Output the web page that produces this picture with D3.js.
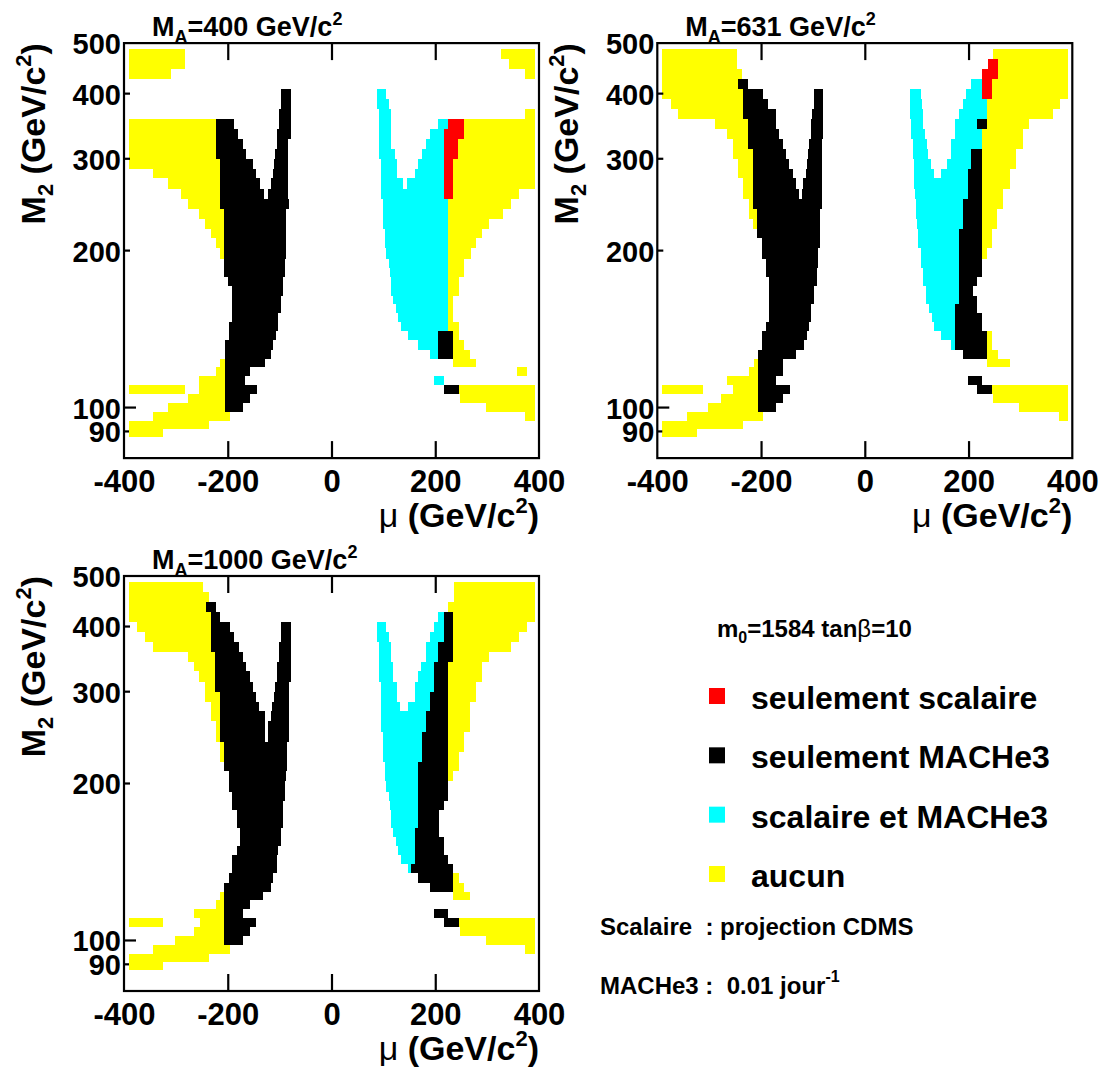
<!DOCTYPE html>
<html><head><meta charset="utf-8">
<script src="https://cdn.jsdelivr.net/npm/d3@7"></script>
<style>
body{margin:0;background:#fff}
svg{display:block}
text{font-family:"Liberation Sans",Arial,Helvetica,sans-serif;font-weight:bold;fill:#000}
</style>
</head><body>
<svg id="chart" width="1106" height="1075"></svg>
<script>
// ---------- DATA ----------
// M2 grid row edges (GeV/c^2), top to bottom; row i spans m2Edges[i]..m2Edges[i+1]
const m2Edges = [487,466,446,427,408,391,374,358,342,328,313,300,287,275,263,251,240.5,230,220,211,202,193,185,178,171,164,158,152,146,140,135,129,124,119.5,115,110.6,106,102,98,94.3,91,87.8];
const muTickValues = [-400,-200,0,200,400];
const muInnerTicks = [-200,0,200];
const m2TickLabels = [500,400,300,200,100,90];
const categoryKeys = ["s","m","b","n"];
const categoryLabels = ["seulement scalaire","seulement MACHe3","scalaire et MACHe3","aucun"];
const panelMA = ["400","631","1000"];

// cells: [row, mu from, mu to, category]
const cellsMA400 = [
[0,-390,-282,"n"],[0,327,392,"n"],
[1,-390,-282,"n"],[1,342,392,"n"],
[2,-390,-310,"n"],[2,373,392,"n"],
[4,-97,-79,"m"],[4,88,106,"b"],
[5,-97,-79,"m"],[5,88,111,"b"],
[6,-101,-79,"m"],[6,91,114,"b"],[6,373,392,"n"],
[7,-390,-223,"n"],[7,-223,-187,"m"],[7,-101,-79,"m"],[7,91,114,"b"],[7,206,225,"b"],[7,225,255,"s"],[7,255,392,"n"],
[8,-390,-223,"n"],[8,-223,-180,"m"],[8,-106,-79,"m"],[8,91,114,"b"],[8,189,217,"b"],[8,217,255,"s"],[8,255,392,"n"],
[9,-390,-223,"n"],[9,-223,-171,"m"],[9,-106,-83,"m"],[9,91,114,"b"],[9,182,217,"b"],[9,217,244,"s"],[9,244,392,"n"],
[10,-390,-223,"n"],[10,-223,-164,"m"],[10,-108,-83,"m"],[10,91,122,"b"],[10,174,217,"b"],[10,217,244,"s"],[10,244,392,"n"],
[11,-390,-215,"n"],[11,-215,-152,"m"],[11,-111,-83,"m"],[11,95,127,"b"],[11,166,217,"b"],[11,217,235,"s"],[11,235,392,"n"],
[12,-344,-215,"n"],[12,-215,-146,"m"],[12,-113,-83,"m"],[12,95,127,"b"],[12,160,217,"b"],[12,217,235,"s"],[12,235,392,"n"],
[13,-315,-215,"n"],[13,-215,-138,"m"],[13,-117,-83,"m"],[13,95,137,"b"],[13,146,217,"b"],[13,217,235,"s"],[13,235,392,"n"],
[14,-290,-215,"n"],[14,-215,-131,"m"],[14,-122,-83,"m"],[14,95,217,"b"],[14,217,235,"s"],[14,235,361,"n"],
[15,-277,-215,"n"],[15,-215,-82,"m"],[15,99,225,"b"],[15,225,346,"n"],
[16,-255,-207,"n"],[16,-207,-87,"m"],[16,99,225,"b"],[16,225,331,"n"],
[17,-243,-207,"n"],[17,-207,-87,"m"],[17,100,225,"b"],[17,225,304,"n"],
[18,-233,-207,"n"],[18,-207,-87,"m"],[18,103,225,"b"],[18,225,291,"n"],
[19,-223,-207,"n"],[19,-207,-87,"m"],[19,104,225,"b"],[19,225,279,"n"],
[20,-215,-207,"n"],[20,-207,-87,"m"],[20,106,225,"b"],[20,225,268,"n"],
[21,-207,-90,"m"],[21,110,225,"b"],[21,225,256,"n"],
[22,-207,-90,"m"],[22,113,225,"b"],[22,225,256,"n"],
[23,-199,-94,"m"],[23,114,225,"b"],[23,225,245,"n"],
[24,-191,-94,"m"],[24,114,225,"b"],[24,225,245,"n"],
[25,-191,-97,"m"],[25,119,225,"b"],[25,225,235,"n"],
[26,-191,-97,"m"],[26,124,225,"b"],[26,225,235,"n"],
[27,-191,-103,"m"],[27,129,225,"b"],[27,225,235,"n"],
[28,-197,-103,"m"],[28,134,225,"b"],[28,225,245,"n"],
[29,-197,-107,"m"],[29,147,206,"b"],[29,206,235,"m"],[29,235,245,"n"],
[30,-205,-112,"m"],[30,166,206,"b"],[30,206,235,"m"],[30,235,256,"n"],
[31,-205,-117,"m"],[31,189,206,"b"],[31,206,235,"m"],[31,235,267,"n"],
[32,-215,-205,"n"],[32,-205,-128,"m"],[32,235,278,"n"],
[33,-223,-205,"n"],[33,-205,-158,"m"],[33,357,376,"n"],
[34,-255,-205,"n"],[34,-205,-166,"m"],[34,198,217,"b"],
[35,-390,-282,"n"],[35,-255,-205,"n"],[35,-205,-144,"m"],[35,217,245,"m"],[35,245,392,"n"],
[36,-277,-205,"n"],[36,-205,-158,"m"],[36,248,392,"n"],
[37,-315,-205,"n"],[37,-205,-171,"m"],[37,298,392,"n"],
[38,-344,-196,"n"],[38,373,392,"n"],
[39,-390,-236,"n"],
[40,-390,-324,"n"]
];

const cellsMA631 = [
[0,-390,-247,"n"],[0,248,392,"n"],
[1,-390,-247,"n"],[1,237,256,"s"],[1,256,392,"n"],
[2,-390,-236,"n"],[2,225,256,"s"],[2,256,392,"n"],
[3,-390,-244,"n"],[3,-244,-226,"m"],[3,205,225,"b"],[3,225,246,"s"],[3,246,392,"n"],
[4,-390,-234,"n"],[4,-234,-196,"m"],[4,-98,-80,"m"],[4,88,108,"b"],[4,196,225,"b"],[4,225,246,"s"],[4,246,392,"n"],
[5,-374,-234,"n"],[5,-234,-187,"m"],[5,-98,-80,"m"],[5,88,110,"b"],[5,189,235,"b"],[5,235,376,"n"],
[6,-360,-234,"n"],[6,-234,-171,"m"],[6,-101,-80,"m"],[6,88,113,"b"],[6,182,235,"b"],[6,235,362,"n"],
[7,-289,-225,"n"],[7,-225,-171,"m"],[7,-104,-80,"m"],[7,90,113,"b"],[7,173,216,"b"],[7,216,235,"m"],[7,235,317,"n"],
[8,-265,-225,"n"],[8,-225,-165,"m"],[8,-104,-80,"m"],[8,90,117,"b"],[8,173,225,"b"],[8,225,304,"n"],
[9,-255,-225,"n"],[9,-225,-158,"m"],[9,-108,-82,"m"],[9,92,119,"b"],[9,166,225,"b"],[9,225,304,"n"],
[10,-255,-215,"n"],[10,-215,-152,"m"],[10,-109,-82,"m"],[10,92,122,"b"],[10,166,205,"b"],[10,205,225,"m"],[10,225,291,"n"],
[11,-245,-215,"n"],[11,-215,-146,"m"],[11,-112,-82,"m"],[11,95,127,"b"],[11,159,205,"b"],[11,205,225,"m"],[11,225,291,"n"],
[12,-245,-215,"n"],[12,-215,-139,"m"],[12,-114,-82,"m"],[12,95,133,"b"],[12,147,198,"b"],[12,198,225,"m"],[12,225,279,"n"],
[13,-234,-215,"n"],[13,-215,-133,"m"],[13,-119,-82,"m"],[13,95,198,"b"],[13,198,225,"m"],[13,225,279,"n"],
[14,-234,-215,"n"],[14,-215,-127,"m"],[14,-122,-82,"m"],[14,97,198,"b"],[14,198,225,"m"],[14,225,267,"n"],
[15,-223,-215,"n"],[15,-215,-83,"m"],[15,99,189,"b"],[15,189,225,"m"],[15,225,267,"n"],
[16,-223,-207,"n"],[16,-207,-86,"m"],[16,99,189,"b"],[16,189,225,"m"],[16,225,255,"n"],
[17,-215,-207,"n"],[17,-207,-86,"m"],[17,101,189,"b"],[17,189,225,"m"],[17,225,255,"n"],
[18,-207,-86,"m"],[18,103,182,"b"],[18,182,225,"m"],[18,225,245,"n"],
[19,-199,-86,"m"],[19,103,182,"b"],[19,182,225,"m"],[19,225,245,"n"],
[20,-199,-90,"m"],[20,108,182,"b"],[20,182,225,"m"],[20,225,235,"n"],
[21,-191,-90,"m"],[21,108,182,"b"],[21,182,225,"m"],
[22,-191,-93,"m"],[22,113,182,"b"],[22,182,225,"m"],
[23,-184,-93,"m"],[23,113,182,"b"],[23,182,216,"m"],
[24,-184,-98,"m"],[24,118,182,"b"],[24,182,209,"m"],
[25,-184,-98,"m"],[25,118,182,"b"],[25,182,216,"m"],
[26,-184,-103,"m"],[26,124,174,"b"],[26,174,216,"m"],
[27,-184,-103,"m"],[27,129,174,"b"],[27,174,225,"m"],
[28,-191,-107,"m"],[28,133,174,"b"],[28,174,225,"m"],
[29,-199,-112,"m"],[29,147,174,"b"],[29,174,235,"m"],[29,235,245,"n"],
[30,-199,-117,"m"],[30,167,174,"b"],[30,174,235,"m"],[30,235,245,"n"],
[31,-205,-133,"m"],[31,189,235,"m"],[31,235,256,"n"],
[32,-213,-205,"n"],[32,-205,-158,"m"],[32,235,279,"n"],
[33,-223,-205,"n"],[33,-205,-158,"m"],
[34,-265,-205,"n"],[34,-205,-171,"m"],[34,198,225,"m"],
[35,-390,-311,"n"],[35,-254,-205,"n"],[35,-205,-145,"m"],[35,216,246,"m"],[35,246,392,"n"],
[36,-277,-205,"n"],[36,-205,-158,"m"],[36,248,392,"n"],
[37,-302,-205,"n"],[37,-205,-171,"m"],[37,297,392,"n"],
[38,-343,-196,"n"],[38,374,392,"n"],
[39,-390,-235,"n"],
[40,-390,-324,"n"]
];

const cellsMA1000 = [
[0,-390,-247,"n"],[0,237,392,"n"],
[1,-390,-236,"n"],[1,237,392,"n"],
[2,-390,-242,"n"],[2,-242,-223,"m"],[2,225,392,"n"],
[3,-390,-233,"n"],[3,-233,-214,"m"],[3,206,217,"b"],[3,217,235,"m"],[3,235,392,"n"],
[4,-374,-233,"n"],[4,-233,-196,"m"],[4,-97,-79,"m"],[4,88,106,"b"],[4,198,217,"b"],[4,217,235,"m"],[4,235,376,"n"],
[5,-360,-233,"n"],[5,-233,-187,"m"],[5,-97,-79,"m"],[5,88,111,"b"],[5,190,217,"b"],[5,217,235,"m"],[5,235,361,"n"],
[6,-344,-233,"n"],[6,-233,-178,"m"],[6,-101,-79,"m"],[6,92,114,"b"],[6,182,206,"b"],[6,206,235,"m"],[6,235,346,"n"],
[7,-277,-225,"n"],[7,-225,-171,"m"],[7,-101,-79,"m"],[7,92,114,"b"],[7,182,206,"b"],[7,206,235,"m"],[7,235,304,"n"],
[8,-265,-225,"n"],[8,-225,-165,"m"],[8,-106,-79,"m"],[8,92,118,"b"],[8,173,198,"b"],[8,198,225,"m"],[8,225,291,"n"],
[9,-255,-225,"n"],[9,-225,-158,"m"],[9,-106,-79,"m"],[9,92,118,"b"],[9,166,198,"b"],[9,198,225,"m"],[9,225,291,"n"],
[10,-243,-225,"n"],[10,-225,-151,"m"],[10,-108,-82,"m"],[10,95,127,"b"],[10,160,198,"b"],[10,198,225,"m"],[10,225,278,"n"],
[11,-243,-215,"n"],[11,-215,-146,"m"],[11,-111,-82,"m"],[11,95,127,"b"],[11,160,189,"b"],[11,189,225,"m"],[11,225,278,"n"],
[12,-233,-215,"n"],[12,-215,-139,"m"],[12,-114,-82,"m"],[12,95,132,"b"],[12,147,189,"b"],[12,189,225,"m"],[12,225,267,"n"],
[13,-233,-215,"n"],[13,-215,-128,"m"],[13,-117,-82,"m"],[13,95,182,"b"],[13,182,225,"m"],[13,225,267,"n"],
[14,-223,-215,"n"],[14,-215,-128,"m"],[14,-122,-82,"m"],[14,95,182,"b"],[14,182,225,"m"],[14,225,267,"n"],
[15,-223,-215,"n"],[15,-215,-128,"m"],[15,-122,-82,"m"],[15,99,174,"b"],[15,174,225,"m"],[15,225,256,"n"],
[16,-215,-207,"n"],[16,-207,-86,"m"],[16,99,174,"b"],[16,174,225,"m"],[16,225,256,"n"],
[17,-215,-207,"n"],[17,-207,-86,"m"],[17,100,174,"b"],[17,174,225,"m"],[17,225,245,"n"],
[18,-207,-86,"m"],[18,104,166,"b"],[18,166,225,"m"],[18,225,245,"n"],
[19,-198,-88,"m"],[19,104,166,"b"],[19,166,225,"m"],[19,225,235,"n"],
[20,-198,-90,"m"],[20,106,166,"b"],[20,166,225,"m"],
[21,-191,-90,"m"],[21,110,166,"b"],[21,166,225,"m"],
[22,-191,-94,"m"],[22,113,166,"b"],[22,166,216,"m"],
[23,-183,-94,"m"],[23,114,166,"b"],[23,166,208,"m"],
[24,-183,-94,"m"],[24,114,166,"b"],[24,166,208,"m"],
[25,-176,-97,"m"],[25,119,161,"b"],[25,161,208,"m"],
[26,-176,-97,"m"],[26,124,161,"b"],[26,161,216,"m"],
[27,-183,-103,"m"],[27,129,161,"b"],[27,161,216,"m"],
[28,-191,-106,"m"],[28,134,161,"b"],[28,161,225,"m"],
[29,-191,-106,"m"],[29,147,153,"b"],[29,153,235,"m"],
[30,-198,-112,"m"],[30,166,235,"m"],[30,235,245,"n"],
[31,-207,-117,"m"],[31,190,235,"m"],[31,235,256,"n"],
[32,-215,-207,"n"],[32,-207,-133,"m"],[32,235,267,"n"],
[33,-223,-207,"n"],[33,-207,-158,"m"],
[34,-265,-207,"n"],[34,-207,-171,"m"],[34,198,225,"m"],
[35,-390,-324,"n"],[35,-254,-207,"n"],[35,-207,-146,"m"],[35,217,245,"m"],[35,245,392,"n"],
[36,-265,-207,"n"],[36,-207,-158,"m"],[36,248,392,"n"],
[37,-302,-207,"n"],[37,-207,-171,"m"],[37,298,392,"n"],
[38,-344,-196,"n"],[38,373,392,"n"],
[39,-390,-236,"n"],
[40,-390,-324,"n"]
];

// ---------- STYLE / LAYOUT ----------
const colorOf = {s:"#ff0000", m:"#000000", b:"#00ffff", n:"#ffff00"};
const W = 415, H = 415;
const layout = [
  {cells: cellsMA400,  ox:124,   oy:43.1},
  {cells: cellsMA631,  ox:657.3, oy:43.1},
  {cells: cellsMA1000, ox:124,   oy:576}
];

const svg = d3.select("#chart");
const xs = d3.scaleLinear().domain([-400,400]).range([0,W]);
const ys = d3.scaleLog().domain([80,500]).range([H,0]);
const plainNum = d => String(d);

layout.forEach((p, i) => {
  const g = svg.append("g").attr("transform", `translate(${p.ox},${p.oy})`);

  g.append("g").selectAll("rect").data(p.cells).join("rect")
    .attr("x", d => xs(d[1]))
    .attr("width", d => xs(d[2]) - xs(d[1]))
    .attr("y", d => ys(m2Edges[d[0]]))
    .attr("height", d => ys(m2Edges[d[0]+1]) - ys(m2Edges[d[0]]))
    .attr("fill", d => colorOf[d[3]])
    .attr("shape-rendering","crispEdges");

  // inner ticks, bottom and top
  const bt = g.append("g").attr("transform", `translate(0,${H})`)
    .call(d3.axisBottom(xs).tickValues(muInnerTicks).tickSizeInner(-17).tickSizeOuter(0).tickFormat(""));
  const tt = g.append("g")
    .call(d3.axisTop(xs).tickValues(muInnerTicks).tickSizeInner(-17).tickSizeOuter(0).tickFormat(""));
  [bt, tt].forEach(a => { a.select(".domain").remove(); a.selectAll("line").attr("stroke","#000").attr("stroke-width",2.2); });

  // x tick labels
  const xl = g.append("g").attr("transform", `translate(0,${H})`)
    .call(d3.axisBottom(xs).tickValues(muTickValues).tickSize(0).tickPadding(12).tickFormat(plainNum));
  xl.select(".domain").remove();
  xl.selectAll("text").style("font-size","31px").attr("font-family",null).attr("font-size",null);

  // y ticks (inward) + labels
  const yl = g.append("g")
    .call(d3.axisLeft(ys).tickValues(m2TickLabels).tickSize(0).tickPadding(3).tickFormat(plainNum));
  yl.select(".domain").remove();
  yl.selectAll("text").style("font-size","29px").attr("dy","0.36em").attr("font-family",null).attr("font-size",null);
  g.append("g").selectAll("line").data(m2TickLabels.filter(v => v < 500)).join("line")
    .attr("x1", 0).attr("x2", v => v === 100 ? 12 : (v === 90 ? 5 : 6))
    .attr("y1", v => ys(v)).attr("y2", v => ys(v))
    .attr("stroke","#000").attr("stroke-width",2.2);

  // frame
  g.append("rect").attr("width", W).attr("height", H)
    .attr("fill","none").attr("stroke","#000").attr("stroke-width",2.2);

  // panel title
  const t = g.append("text").attr("x", 28).attr("y", -7).style("font-size","27px");
  t.append("tspan").text("M");
  t.append("tspan").attr("dy", 7).style("font-size","18px").text("A");
  t.append("tspan").attr("dy", -7).text("=" + panelMA[i] + " GeV/c");
  t.append("tspan").attr("dy", -11).style("font-size","18px").text("2");

  // x title
  const xt = g.append("text").attr("x", W).attr("y", H + 69).attr("text-anchor","end").style("font-size","34px");
  xt.append("tspan").style("font-weight","normal").text("\u03bc");
  xt.append("tspan").text(" (GeV/c");
  xt.append("tspan").attr("dy", -14).style("font-size","22px").text("2");
  xt.append("tspan").attr("dy", 14).text(")");

  // y title
  const yt = g.append("text").attr("transform", `translate(-79,0) rotate(-90)`)
    .attr("text-anchor","end").style("font-size","34px");
  yt.append("tspan").text("M");
  yt.append("tspan").attr("dy", 8).style("font-size","22px").text("2");
  yt.append("tspan").attr("dy", -8).text(" (GeV/c");
  yt.append("tspan").attr("dy", -14).style("font-size","22px").text("2");
  yt.append("tspan").attr("dy", 14).text(")");
});

// ---------- LEGEND ----------
const lg = svg.append("g");
const info = lg.append("text").attr("x", 717).attr("y", 637).style("font-size","24px");
info.append("tspan").text("m");
info.append("tspan").attr("dy", 6).style("font-size","16px").text("0");
info.append("tspan").attr("dy", -6).text("=1584 tan");
info.append("tspan").style("font-weight","normal").text("\u03b2");
info.append("tspan").text("=10");

const legendY = d3.scalePoint().domain(categoryKeys).range([709, 887]);
const items = lg.selectAll("g.item").data(categoryKeys).join("g").attr("class","item");
items.append("rect").attr("x", 709).attr("y", k => legendY(k) - 21).attr("width", 16).attr("height", 16)
  .attr("fill", k => colorOf[k]);
items.append("text").attr("x", 751).attr("y", k => legendY(k)).style("font-size","32px")
  .text((k, j) => categoryLabels[j]);

lg.append("text").attr("x", 600).attr("y", 935).style("font-size","24px").style("white-space","pre")
  .text("Scalaire  : projection CDMS");
const mt = lg.append("text").attr("x", 600).attr("y", 994).style("font-size","24px").style("white-space","pre");
mt.append("tspan").text("MACHe3 :  0.01 jour");
mt.append("tspan").attr("dy", -12).style("font-size","16px").text("-1");
</script>
</body></html>
